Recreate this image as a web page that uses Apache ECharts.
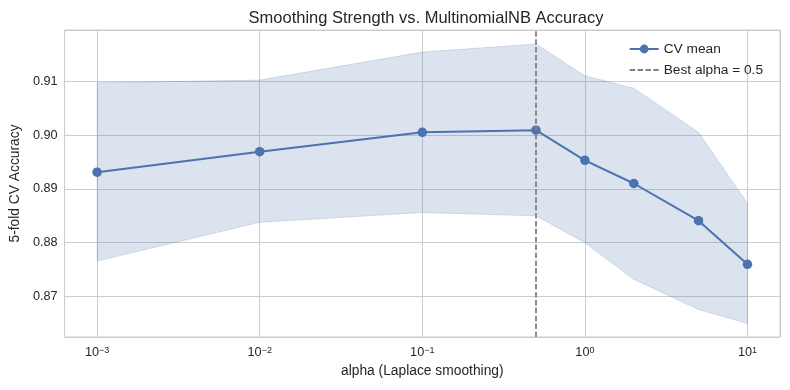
<!DOCTYPE html>
<html>
<head>
<meta charset="utf-8">
<script src="https://cdn.jsdelivr.net/npm/echarts@6/dist/echarts.min.js"></script>
<style>
  html, body { margin: 0; padding: 0; background: #fff; }
  #chart { width: 790px; height: 390px; }
</style>
</head>
<body>
<div id="chart"></div>
<script>
// alpha grid and 5-fold CV results
const alphas  = [0.001, 0.01, 0.1, 0.5, 1, 2, 5, 10];
const cvMean  = [0.8931, 0.8969, 0.9005, 0.9009, 0.8953, 0.8910, 0.8841, 0.8760];
const cvUpper = [0.9097, 0.9102, 0.9154, 0.9169, 0.9110, 0.9087, 0.9005, 0.8873];
const cvLower = [0.8766, 0.8838, 0.8856, 0.8850, 0.8800, 0.8732, 0.8676, 0.8650];
const bestAlpha = 0.5;

const BLUE = "#4C72B0";
const TXT = "#262626";
const GRIDC = "#cccccc";
const FONT = "Liberation Sans, Arial, sans-serif";

function supLabel(v){
  const e = Math.round(Math.log10(v));
  return "{b|10}{sup|" + (e < 0 ? "\u2212" + (-e) : e) + "}";
}

const chart = echarts.init(document.getElementById("chart"));

chart.setOption({
  animation: false,
  backgroundColor: "#fff",
  textStyle: { fontFamily: FONT, color: TXT },
  title: {
    text: "Smoothing Strength vs. MultinomialNB Accuracy",
    left: 421, top: 5, textAlign: "center",
    textStyle: { fontFamily: FONT, fontSize: 16.5, fontWeight: "normal", color: TXT }
  },
  legend: {
    orient: "vertical",
    right: 22, top: 37,
    itemWidth: 29, itemHeight: 11, itemGap: 7,
    textStyle: { fontFamily: FONT, fontSize: 13.7, color: TXT },
    data: [
      { name: "CV mean" },
      { name: "Best alpha = 0.5", itemStyle: { opacity: 0 } }
    ]
  },
  grid: {
    left: 61, top: 30, right: 10, bottom: 53,
    show: true, borderColor: GRIDC, borderWidth: 1
  },
  xAxis: {
    type: "log", logBase: 10,
    min: Math.pow(10, -3.2), max: Math.pow(10, 1.2),
    name: "alpha (Laplace smoothing)",
    nameLocation: "middle", nameGap: 26,
    nameTextStyle: { fontFamily: FONT, fontSize: 13.8, color: TXT },
    axisLine: { show: false },
    axisTick: { show: false },
    minorTick: { show: false },
    splitLine: { show: true, lineStyle: { color: GRIDC, width: 1 } },
    axisLabel: {
      margin: 9, showMinLabel: false, showMaxLabel: false,
      fontFamily: FONT, color: TXT,
      formatter: v => supLabel(v),
      rich: {
        b: { fontFamily: FONT, fontSize: 12.7, lineHeight: 13, color: TXT },
        sup: { fontFamily: FONT, fontSize: 9, lineHeight: 9, verticalAlign: "top", color: TXT }
      }
    }
  },
  yAxis: {
    type: "value",
    min: 0.8625, max: 0.9195,
    name: "5-fold CV Accuracy",
    nameLocation: "middle", nameGap: 37,
    nameTextStyle: { fontFamily: FONT, fontSize: 13.8, color: TXT },
    axisLine: { show: false },
    axisTick: { show: false },
    splitLine: { show: true, lineStyle: { color: GRIDC, width: 1 } },
    axisLabel: {
      margin: 7, showMinLabel: false, showMaxLabel: false,
      fontFamily: FONT, fontSize: 12.7, color: TXT,
      formatter: v => v.toFixed(2)
    }
  },
  series: [
    {
      // ±1 std band drawn as one polygon
      type: "custom",
      name: "band",
      silent: true,
      z: 1,
      data: alphas.map((a, i) => [a, cvUpper[i]]),
      renderItem: function(params, api){
        if (params.dataIndex !== 0) return null;
        const pts = [];
        for (let i = 0; i < alphas.length; i++) pts.push(api.coord([alphas[i], cvUpper[i]]));
        for (let i = alphas.length - 1; i >= 0; i--) pts.push(api.coord([alphas[i], cvLower[i]]));
        return {
          type: "polygon",
          shape: { points: pts },
          style: { fill: "rgba(76,114,176,0.2)", stroke: "rgba(76,114,176,0.2)", lineWidth: 1 }
        };
      }
    },
    {
      name: "CV mean",
      type: "line",
      z: 3,
      data: alphas.map((a, i) => [a, cvMean[i]]),
      color: BLUE,
      symbol: "circle",
      symbolSize: 9.5,
      showSymbol: true,
      lineStyle: { color: BLUE, width: 2 },
      itemStyle: { color: BLUE }
    },
    {
      name: "Best alpha = 0.5",
      type: "line",
      z: 2,
      data: [],
      color: "#808080",
      symbol: "none",
      lineStyle: { color: "#808080", width: 1.8, type: [5.5, 2.4] },
      itemStyle: { color: "#808080" },
      markLine: {
        silent: true,
        symbol: "none",
        label: { show: false },
        lineStyle: { color: "#808080", width: 1.8, type: [5.5, 2.4] },
        data: [{ xAxis: bestAlpha }]
      }
    }
  ]
});
</script>
</body>
</html>
